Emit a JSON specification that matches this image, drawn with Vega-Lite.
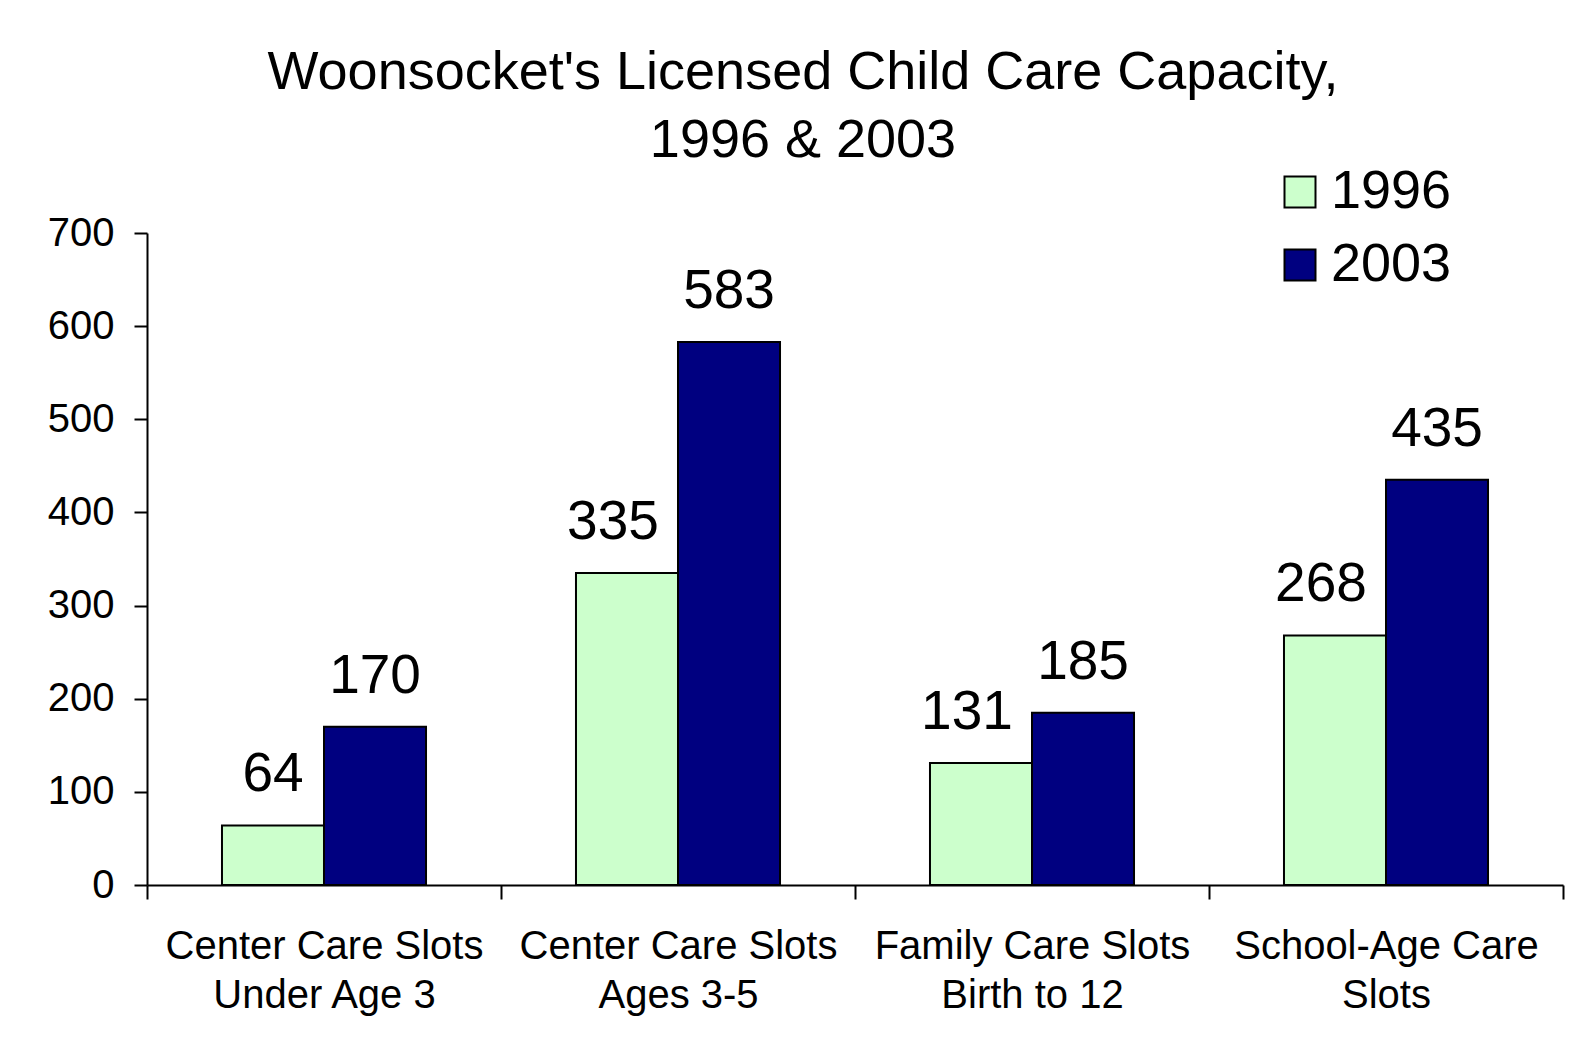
{
  "$schema": "https://vega.github.io/schema/vega-lite/v6.json",
  "width": 1416,
  "height": 652,
  "autosize": {"type": "none"},
  "padding": {"left": 147, "top": 233, "right": 28, "bottom": 164},
  "background": "white",
  "config": {"font": "Liberation Sans", "view": {"stroke": null}},
  "title": {
    "text": ["Woonsocket's Licensed Child Care Capacity,", "1996 & 2003"],
    "fontSize": 54,
    "fontWeight": "normal",
    "color": "black",
    "lineHeight": 68,
    "anchor": "middle",
    "frame": "group",
    "dx": -52,
    "dy": 7
  },
  "data": {
    "values": [
      {"category": "Center Care Slots|Under Age 3", "year": "1996", "value": 64},
      {"category": "Center Care Slots|Under Age 3", "year": "2003", "value": 170},
      {"category": "Center Care Slots|Ages 3-5", "year": "1996", "value": 335},
      {"category": "Center Care Slots|Ages 3-5", "year": "2003", "value": 583},
      {"category": "Family Care Slots|Birth to 12", "year": "1996", "value": 131},
      {"category": "Family Care Slots|Birth to 12", "year": "2003", "value": 185},
      {"category": "School-Age Care|Slots", "year": "1996", "value": 268},
      {"category": "School-Age Care|Slots", "year": "2003", "value": 435}
    ]
  },
  "encoding": {
    "x": {
      "field": "category",
      "type": "nominal",
      "sort": null,
      "scale": {"paddingInner": 0, "paddingOuter": 0},
      "axis": {
        "title": null,
        "labelAngle": 0,
        "tickBand": "extent",
        "domainColor": "black",
        "domainWidth": 2,
        "tickColor": "black",
        "tickWidth": 2,
        "tickSize": 14,
        "labelFontSize": 40,
        "labelColor": "black",
        "labelPadding": 27,
        "labelLineHeight": 49,
        "labelLimit": 0,
        "labelExpr": "split(datum.label, '|')",
        "grid": false
      }
    },
    "xOffset": {
      "field": "year",
      "type": "nominal",
      "scale": {"paddingInner": 0, "paddingOuter": 0.735}
    },
    "y": {
      "field": "value",
      "type": "quantitative",
      "scale": {"domain": [0, 700]},
      "axis": {
        "title": null,
        "values": [0, 100, 200, 300, 400, 500, 600, 700],
        "grid": false,
        "tickSize": 13,
        "tickWidth": 2,
        "tickColor": "black",
        "domainColor": "black",
        "domainWidth": 2,
        "labelFontSize": 40,
        "labelColor": "black",
        "labelPadding": 20
      }
    }
  },
  "layer": [
    {
      "mark": {"type": "bar", "stroke": "black", "strokeWidth": 2},
      "encoding": {
        "color": {
          "field": "year",
          "type": "nominal",
          "scale": {"domain": ["1996", "2003"], "range": ["#CCFFCC", "#000080"]},
          "legend": {
            "orient": "none",
            "legendX": 1126,
            "legendY": -68,
            "title": null,
            "padding": 0,
            "symbolType": "square",
            "symbolSize": 961,
            "symbolStrokeColor": "black",
            "symbolStrokeWidth": 2,
            "symbolOpacity": 1,
            "labelFontSize": 54,
            "labelColor": "black",
            "labelOffset": 4,
            "rowPadding": 19
          }
        }
      }
    },
    {
      "transform": [{"filter": "datum.year == '2003' || datum.value < 100"}],
      "mark": {"type": "text", "dy": -34, "baseline": "alphabetic", "fontSize": 55, "color": "black"},
      "encoding": {"text": {"field": "value", "type": "quantitative"}}
    },
    {
      "transform": [{"filter": "datum.year == '1996' && datum.value >= 100"}],
      "mark": {"type": "text", "dy": -34, "dx": -14, "baseline": "alphabetic", "fontSize": 55, "color": "black"},
      "encoding": {"text": {"field": "value", "type": "quantitative"}}
    }
  ]
}
